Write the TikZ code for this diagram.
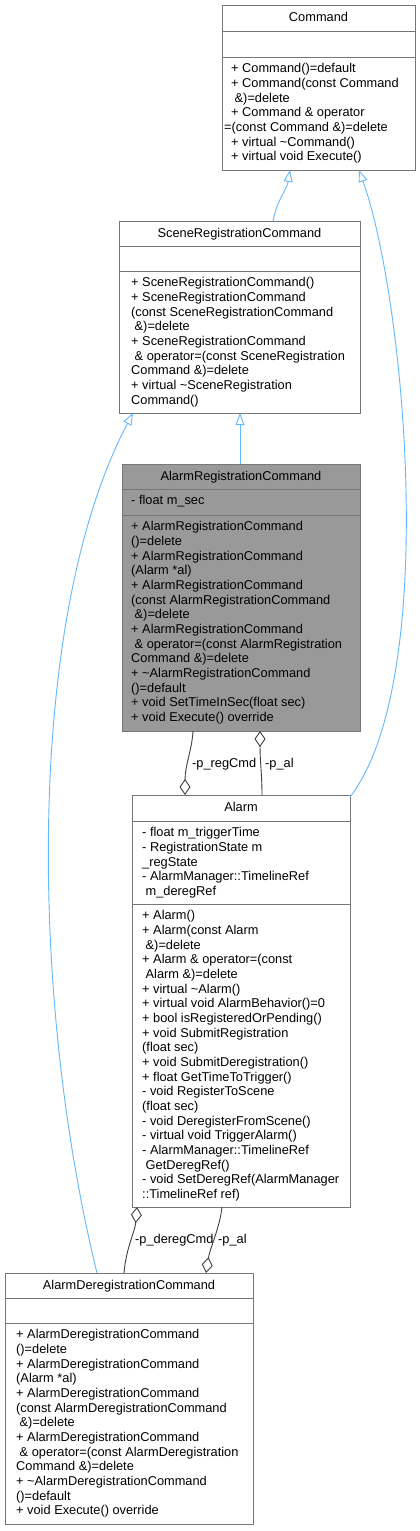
\documentclass[tikz,border=0pt]{standalone}
\usepackage{fontspec}
\setmainfont{Liberation Sans}
\usetikzlibrary{arrows.meta,calc}
\definecolor{bordc}{HTML}{777777}
\definecolor{inhc}{HTML}{63B8FF}
\definecolor{aggc}{HTML}{404040}
\definecolor{fillc}{HTML}{999999}
\newcommand\ls{\hspace*{3.5pt}}
\newcommand\dfs{\fontsize{12.8}{14.65}\selectfont}
\begin{document}
\begin{tikzpicture}[x=1pt,y=-1pt,
  cls/.style={draw=bordc, line width=1pt, fill=white, inner sep=0pt, outer sep=0pt, anchor=north west},
  sepl/.style={draw=bordc, line width=1pt},
  ttl/.style={anchor=base, inner sep=0pt, font=\dfs},
  body/.style={anchor=north west, inner sep=0pt, align=left, font=\dfs},
  inh/.style={draw=inhc, line width=0.9pt, -{Triangle[open,length=12pt,width=9pt,fill=white]}},
  agg/.style={draw=aggc, line width=0.9pt, {Diamond[open,length=16pt,width=11pt,fill=white]}-},
  lbl/.style={anchor=base west, inner sep=0pt, font=\dfs}]
\fill[white] (0,0) rectangle (420,1531);
\useasboundingbox (0,0) rectangle (420,1531);

% ---------- Command ----------
\node[cls, minimum width=193pt, minimum height=165pt] (cmd) at (222,5) {};
\draw[sepl] (222,31) -- (415,31);
\draw[sepl] (222,57) -- (415,57);
\node[ttl] (cmdT) at (318.5,21.8) {Command};
\node[body] (cmdM) at (231,62.5) {\strut + Command()=default\\
\strut + Command(const Command\\
\strut \ls\&)=delete\\
\strut + Command \& operator\\
\strut \hspace*{-7pt}=(const Command \&)=delete\\
\strut + virtual \textasciitilde Command()\\
\strut + virtual void Execute()};

% ---------- SceneRegistrationCommand ----------
\node[cls, minimum width=241pt, minimum height=192pt] (src) at (119,221) {};
\draw[sepl] (119,246) -- (360,246);
\draw[sepl] (119,271) -- (360,271);
\node[ttl] (srcT) at (239.5,237.8) {SceneRegistrationCommand};
\node[body] (srcM) at (131,276.5) {\strut + SceneRegistrationCommand()\\
\strut + SceneRegistrationCommand\\
\strut (const SceneRegistrationCommand\\
\strut \ls\&)=delete\\
\strut + SceneRegistrationCommand\\
\strut \ls\& operator=(const SceneRegistration\\
\strut Command \&)=delete\\
\strut + virtual \textasciitilde SceneRegistration\\
\strut Command()};

% ---------- AlarmRegistrationCommand ----------
\node[cls, fill=fillc, minimum width=238pt, minimum height=267pt] (arc) at (122,464) {};
\draw[sepl] (122,489) -- (360,489);
\draw[sepl] (122,515) -- (360,515);
\node[ttl] (arcT) at (241,480.8) {AlarmRegistrationCommand};
\node[body] (arcA) at (131,494.5) {\strut - float m\_sec};
\node[body] (arcM) at (131,520.5) {\strut + AlarmRegistrationCommand\\
\strut ()=delete\\
\strut + AlarmRegistrationCommand\\
\strut (Alarm *al)\\
\strut + AlarmRegistrationCommand\\
\strut (const AlarmRegistrationCommand\\
\strut \ls\&)=delete\\
\strut + AlarmRegistrationCommand\\
\strut \ls\& operator=(const AlarmRegistration\\
\strut Command \&)=delete\\
\strut + \textasciitilde AlarmRegistrationCommand\\
\strut ()=default\\
\strut + void SetTimeInSec(float sec)\\
\strut + void Execute() override};

% ---------- Alarm ----------
\node[cls, minimum width=218pt, minimum height=412pt] (alarm) at (132,795) {};
\draw[sepl] (132,821) -- (350,821);
\draw[sepl] (132,904) -- (350,904);
\node[ttl] (alarmT) at (241,811) {Alarm};
\node[body] (alarmA) at (142,826.5) {\strut - float m\_triggerTime\\
\strut - RegistrationState m\\
\strut \_regState\\
\strut - AlarmManager::TimelineRef\\
\strut \ls m\_deregRef};
\node[body] (alarmM) at (142,909.5) {\strut + Alarm()\\
\strut + Alarm(const Alarm\\
\strut \ls\&)=delete\\
\strut + Alarm \& operator=(const\\
\strut \ls Alarm \&)=delete\\
\strut + virtual \textasciitilde Alarm()\\
\strut + virtual void AlarmBehavior()=0\\
\strut + bool isRegisteredOrPending()\\
\strut + void SubmitRegistration\\
\strut (float sec)\\
\strut + void SubmitDeregistration()\\
\strut + float GetTimeToTrigger()\\
\strut - void RegisterToScene\\
\strut (float sec)\\
\strut - void DeregisterFromScene()\\
\strut - virtual void TriggerAlarm()\\
\strut - AlarmManager::TimelineRef\\
\strut \ls GetDeregRef()\\
\strut - void SetDeregRef(AlarmManager\\
\strut ::TimelineRef ref)};

% ---------- AlarmDeregistrationCommand ----------
\node[cls, minimum width=248pt, minimum height=251pt] (adc) at (5,1273) {};
\draw[sepl] (5,1298) -- (253,1298);
\draw[sepl] (5,1323) -- (253,1323);
\node[ttl] (adcT) at (129,1289) {AlarmDeregistrationCommand};
\node[body] (adcM) at (16,1328.5) {\strut + AlarmDeregistrationCommand\\
\strut ()=delete\\
\strut + AlarmDeregistrationCommand\\
\strut (Alarm *al)\\
\strut + AlarmDeregistrationCommand\\
\strut (const AlarmDeregistrationCommand\\
\strut \ls\&)=delete\\
\strut + AlarmDeregistrationCommand\\
\strut \ls\& operator=(const AlarmDeregistration\\
\strut Command \&)=delete\\
\strut + \textasciitilde AlarmDeregistrationCommand\\
\strut ()=default\\
\strut + void Execute() override};

% ---------- inheritance ----------
\draw[inh] ([xshift=154pt]src.north west) .. controls +(4,-21) and +(-3,19) .. ([xshift=68pt]cmd.south west);
\draw[inh] ([yshift=-2pt]alarm.north east) .. controls +(90,-117) and +(46,129) .. ([xshift=137pt]cmd.south west);
\draw[inh] ([xshift=118pt]arc.north west) -- ([xshift=121pt]src.south west);
\draw[inh] ([xshift=92pt]adc.north west) .. controls +(-67,-273) and +(-108,205) .. ([xshift=14pt]src.south west);

% ---------- aggregation ----------
\draw[agg] ([xshift=53pt]alarm.north west) .. controls +(0,-30) and +(-1,19) .. ([xshift=71pt]arc.south west);
\draw[agg] ([xshift=138pt]arc.south west) .. controls +(0,30) and +(0,-20) .. ([xshift=130pt]alarm.north west);
\draw[agg] ([xshift=5pt]alarm.south west) .. controls +(-2,25) and +(2,-25) .. ([xshift=119pt]adc.north west);
\draw[agg] ([xshift=201pt]adc.north west) .. controls +(4,-25) and +(-2,20) .. ([xshift=90pt]alarm.south west);

\node[lbl] (l1) at (192,767) {-p\_regCmd};
\node[lbl] (l2) at (265,767) {-p\_al};
\node[lbl] (l3) at (135,1243.5) {-p\_deregCmd};
\node[lbl] (l4) at (218,1243.5) {-p\_al};
\end{tikzpicture}
\end{document}
